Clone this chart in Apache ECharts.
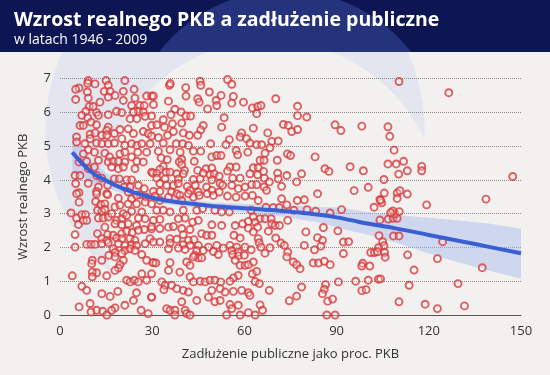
<!DOCTYPE html>
<html><head><meta charset="utf-8">
<script src="https://cdn.jsdelivr.net/npm/echarts@6/dist/echarts.min.js"></script>
<style>
html,body{margin:0;padding:0;background:#f2f1ef;}
#wrap{position:relative;width:550px;height:375px;overflow:hidden;
background:
 radial-gradient(circle 170px at 270px 210px, #f2f1ef 99.5%, rgba(242,241,239,0) 100%),
 radial-gradient(circle 190px at 235px 130px, #e3e6ee 99.5%, rgba(227,230,238,0) 100%),
 #f2f1ef;}
#head{position:absolute;left:0;top:0;width:550px;height:52px;
background: radial-gradient(circle 160px at 285px 150px, #25337c 99.5%, rgba(37,51,124,0) 100%), #0d1652;}
#c{position:absolute;left:0;top:0;width:550px;height:375px;z-index:1;}
</style>
</head><body>
<div id="wrap"><div id="head"></div><div id="c"></div></div>
<script>
// Scatter observations: [public debt % of GDP, real GDP growth %]
const observations = [
[9.2,6.94],[9,6.86],[11.4,6.84],[15,6.94],[21.1,6.94],[15.7,6.8],[6.2,6.72],[5.1,6.68],[8.9,6.6],[14.4,6.62],[16.3,6.62],[17.9,6.5],[20.6,6.62],[24.1,6.68],[28.2,6.48],[29.8,6.48],[5.1,6.38],[9.2,6.42],[15.7,6.45],[20.6,6.35],[24.4,6.42],[13,6.3],[9.5,6.17],[10.8,6.17],[8.4,6.03],[7.1,5.91],[11.9,5.99],[12.5,5.91],[15.7,5.93],[18.4,6.03],[20.1,5.99],[23.3,6.2],[26,6.2],[27.4,6.2],[25.5,6.03],[23.9,6.01],[27.1,6.01],[22.8,5.81],[25,5.81],[27.7,5.88],[29.8,5.61],[9,5.84],[10.1,5.71],[6.5,5.61],[7.6,5.61],[11.9,5.63],[15.7,5.56],[15.2,5.46],[17.7,5.37],[19.5,5.49],[22.2,5.51],[23.9,5.37],[27.1,5.43],[28.7,5.37],[5.4,5.27],[9.8,5.35],[11.4,5.39],[13.6,5.32],[15.2,5.32],[9.8,5.22],[8.1,5.07],[5.4,5.12],[11.9,5.09],[13.6,5.07],[15.7,5.07],[17.7,5.09],[20.1,5.22],[21.1,5.02],[23.3,5.07],[25,5.02],[26.6,5.07],[29.3,5.07],[9.2,4.89],[11.2,4.82],[7.6,4.77],[14.6,4.79],[16.1,4.68],[19.5,4.77],[21.1,4.82],[25.3,4.82],[28.2,4.82],[6.2,4.53],[8.7,4.55],[12.5,4.58],[15.7,4.53],[17.3,4.55],[19,4.55],[21.1,4.53],[23.3,4.68],[25,4.55],[27.1,4.53],[9.2,4.33],[11.2,4.38],[16.8,4.38],[19,4.33],[20.6,4.38],[24.4,4.33],[29.8,4.23],[11.9,4.13],[4.9,4.13],[6.5,4.13],[13.6,4.05],[17.7,4.03],[19.3,4.03],[21.7,4],[23.3,4],[9.2,3.9],[5.1,3.89],[12.5,3.79],[15.5,3.84],[20.9,3.79],[22.8,3.79],[25.5,3.84],[27.4,3.74],[6.2,3.62],[11.9,3.66],[15.2,3.59],[22.2,3.64],[26,3.56],
[5.4,3.59],[11.9,3.59],[15.5,3.56],[19,3.46],[23.3,3.44],[24.9,3.54],[28,3.49],[6.2,3.34],[11.6,3.36],[13.3,3.27],[14.6,3.29],[17.9,3.2],[19.5,3.25],[22.2,3.29],[24.9,3.29],[27.7,3.34],[29.8,3.29],[3.6,3.02],[5.4,2.87],[6,2.68],[7.1,2.97],[8.3,2.97],[7.6,2.8],[8.7,2.8],[12.2,3.1],[13.6,3.07],[14.6,3.13],[12.5,2.87],[14.1,2.87],[15.7,2.9],[16.8,3],[20.6,3],[23.3,3.07],[26.6,3.05],[18.4,2.8],[20.1,2.85],[21.7,2.95],[25.5,2.87],[27.7,2.85],[17.9,2.7],[20.1,2.67],[22.2,2.7],[24.9,2.65],[14.6,2.6],[27.4,2.53],[29.8,2.55],[4.9,2.38],[12.2,2.41],[15.5,2.38],[17.3,2.36],[20.1,2.41],[21.7,2.48],[23.5,2.44],[25.5,2.51],[13.6,2.26],[15.2,2.21],[18.4,2.28],[20.1,2.26],[22.8,2.26],[24.4,2.21],[4.9,2.01],[8.7,2.09],[10.1,2.09],[11.4,2.09],[13.6,2.11],[15.7,2.14],[19,2.11],[21.1,2.06],[23.3,2.08],[24.9,2.06],[27.7,2.11],[29.3,2.26],[17.3,1.96],[21.1,1.91],[22.8,1.96],[24.4,1.91],[15.9,1.77],[17.9,1.85],[20.1,1.82],[26.6,1.79],[10.5,1.62],[13.6,1.62],[20.6,1.62],[17.9,1.72],[28.2,1.62],[30.4,1.55],[10.3,1.52],[19.5,1.49],[19,1.39],[17.9,1.32],[11.9,1.25],[10.5,1.27],[10.5,1.13],[15.2,1.16],[4,1.16],[26.6,1.22],[29.8,1.22],[21.7,1.03],[22.8,0.98],[24.2,1.03],[25.5,0.98],[28.2,1.03],[7.1,0.85],[8.7,0.73],[13.6,0.63],[16.3,0.55],[18.8,0.7],[24.9,0.66],[29.8,0.53],[23.9,0.43],[21.1,0.29],[17.9,0.21],[16.8,0.14],[11.9,0.14],[10.1,0.09],[13.9,0.11],[15.2,0],[26.4,0.14],[28.7,0.04],[6.2,0.24],[9.8,0.34],
[35.6,6.8],[35.9,6.85],[40.9,6.73],[45.6,6.92],[45.8,6.8],[54.5,6.97],[55.9,6.83],[48.6,6.6],[30.4,6.48],[30.4,6.23],[35.3,6.33],[41,6.48],[44.8,6.4],[45.3,6.3],[50.8,6.35],[52.4,6.5],[56.4,6.47],[51,6.2],[55.9,6.27],[59.7,6.3],[48,6.1],[37.4,6.09],[39.4,6.01],[41,5.89],[42.5,5.89],[36.1,5.93],[39.6,5.68],[33.6,5.78],[29.8,5.89],[31.5,5.63],[46.6,5.61],[45.8,5.48],[53.4,5.84],[52.6,5.56],[36.6,5.66],[34,5.56],[59.1,5.39],[58.6,5.27],[60.7,5.22],[55.1,5.19],[29.8,5.3],[32,5.25],[35,5.32],[36.9,5.43],[40.1,5.39],[42.1,5.32],[44.8,5.32],[33.6,5.09],[37.8,5.07],[39.9,5.07],[41.8,5.02],[49,5.07],[54,5.04],[32,4.85],[35.8,4.89],[39.1,4.82],[43.4,4.85],[45.8,4.85],[57.3,4.87],[61.1,4.82],[49.4,4.68],[51,4.72],[52.4,4.72],[57.8,4.74],[32.9,4.65],[34.9,4.6],[39.6,4.61],[43.7,4.55],[55.3,4.38],[57.3,4.38],[38.8,4.53],[39.6,4.45],[33.6,4.4],[32.5,4.31],[47.5,4.33],[49.4,4.35],[40.5,4.28],[44.8,4.28],[30.2,4.2],[31.5,4.2],[34.5,4.23],[35.8,4.23],[38,4.18],[40.1,4.18],[46.6,4.2],[48.8,4.15],[50.2,4.18],[51.8,4.11],[54.5,4.26],[56.2,4.05],[58.6,4.05],[31.5,4.05],[34.2,4.03],[38.5,4.03],[43.4,4.01],[45.6,4.03],[49.4,4],[52.1,3.9],[55.9,3.84],[58,3.74],[60.2,3.79],[32.5,3.89],[34.7,3.84],[36.9,3.84],[38.5,3.89],[41.4,3.81],[44,3.84],[47.7,3.79],[30.4,3.66],[32.5,3.66],[36.3,3.64],[38,3.59],[42.3,3.69],[45,3.64],[49.4,3.69],[51.8,3.64],[52.9,3.84],
[30.9,3.52],[32.5,3.39],[35.3,3.49],[39,3.54],[41.8,3.59],[43.4,3.49],[39.6,3.39],[45.3,3.54],[47.9,3.59],[49.9,3.54],[54.5,3.52],[57.3,3.49],[60.2,3.52],[31.5,3.1],[33.6,3.1],[35.8,3.05],[40.1,3.1],[44.5,3.1],[46.4,3.15],[50.4,3.1],[52.6,3.05],[55.1,3.05],[30.4,2.8],[32.5,2.83],[38.5,2.85],[40.7,2.87],[43.2,2.75],[45,2.8],[49.4,2.67],[52.6,2.65],[57,2.65],[59.4,2.7],[61.3,2.77],[29.8,2.62],[32.5,2.56],[35.3,2.6],[36.9,2.62],[39.6,2.56],[42.3,2.53],[46.1,2.41],[47.7,2.36],[49.4,2.36],[40.1,2.38],[35.8,2.26],[38,2.24],[41.8,2.21],[43.6,2.23],[56.6,2.36],[58.6,2.28],[30.4,2.16],[32.5,2.16],[35.8,2.13],[40.1,2.08],[42.3,2.06],[45,2.06],[48.3,2.01],[51,2.06],[53.1,1.98],[55.3,2.06],[57.5,2.01],[60.2,2.01],[35.3,1.96],[38.5,1.98],[40.7,1.94],[44.5,1.91],[46.6,1.91],[49.9,1.88],[55.9,1.91],[58,1.86],[43.9,1.77],[45,1.69],[43.4,1.72],[46.1,1.69],[51.5,1.79],[56.2,1.79],[58,1.75],[60,1.77],[30.2,1.55],[31.2,1.54],[35.8,1.55],[41.2,1.57],[42.3,1.47],[57,1.62],[58.6,1.47],[60.2,1.47],[61.3,1.49],[35.3,1.32],[39,1.27],[58,1.17],[56.4,1.1],[42.3,1.13],[43.4,0.98],[45.6,1],[47.2,0.98],[48.8,1.03],[50.4,1.03],[52.3,0.98],[55.3,1],[33.1,0.98],[34.2,0.88],[36.3,0.88],[38,0.78],[40.1,0.73],[41.8,0.68],[49.4,0.73],[52.1,0.78],[53.7,0.68],[56.4,0.7],[59.1,0.73],[29.8,0.53],[33.8,0.75],[48.3,0.53],[50.4,0.39],[52.1,0.43],[39.6,0.39],[44.5,0.43],[55.3,0.31],[55.9,0.19],[58,0.29],[34.7,0.19],[35.8,0.14],[37.4,0.14],[40.7,0.14],[41.2,0.04],[37.4,0],[42.3,0],[54.2,0],[58.6,0],
[70.2,6.4],[77.3,6.18],[77.3,5.9],[80.3,5.86],[62.6,6.13],[64.3,6.17],[65.4,6.2],[64,5.96],[89.5,5.63],[91.4,5.46],[62.9,5.53],[67.6,5.39],[72.7,5.64],[74.3,5.61],[75.4,5.43],[77.3,5.49],[61.8,5.09],[64,5.04],[65.6,5.04],[68.9,5.14],[71,5.15],[68.3,4.95],[66.7,4.79],[74,4.77],[75,4.72],[83,4.68],[65.1,4.58],[66.4,4.58],[70.7,4.58],[86.2,4.33],[87.5,4.25],[62.9,4.36],[64.5,4.36],[66.2,4.25],[61.8,4.18],[64.3,4.15],[70.8,4.2],[73.8,4.13],[78.6,4.18],[71,4.03],[66.5,4.05],[68.1,3.94],[77,3.94],[62.4,3.86],[64,3.86],[72.1,3.81],[66.4,3.79],[67.2,3.69],[83.8,3.59],[62.6,3.54],[64.5,3.39],[72.1,3.44],[77.2,3.39],[79.5,3.41],[67,3.19],[69.4,3.18],[71.3,3.18],[73.8,3.26],[76.1,3.1],[80.4,3.12],[83.2,3.07],[87.9,3.02],[91.6,3.12],[62.2,3.1],[62.9,2.9],[65.1,2.85],[66.7,2.85],[68.7,2.85],[68.9,2.7],[70,2.65],[71.4,2.65],[63.5,2.75],[64.3,2.6],[74.1,2.8],[61.3,2.57],[62.9,2.46],[67.8,2.48],[85.7,2.59],[80,2.46],[90.4,2.49],[70.2,2.28],[64.5,2.26],[71.9,2.13],[73,2.06],[83.8,2.29],[85.4,2.21],[79.5,2.06],[82.8,1.93],[84.9,2.04],[92.2,2.16],[64.8,2.14],[65.4,2.01],[62.2,1.93],[68.3,1.99],[66.7,1.83],[74.1,1.86],[73.8,1.72],[92.2,1.82],[75.9,1.57],[77,1.49],[78.1,1.37],[82.4,1.54],[84.1,1.54],[86,1.59],[87.9,1.49],[62.9,1.57],[62.6,1.22],[64,1.29],[63.5,0.99],[64.9,0.93],[90.6,0.98],[86.4,0.9],[78.6,0.83],[77,0.56],[74.6,0.42],[86,0.76],[85.4,0.63],[87.1,0.41],[88.7,0.47],[68.1,0.73],[61.3,0.66],[61.8,0.58],[65.1,0.3],[65.9,0.14],[61.3,0.07],[63.5,0],[86.8,0],[89.5,0],
[98.2,5.59],[94.4,4.39],[98.7,4.27],[100.3,3.78],[95.7,3.68],[102.2,3.19],[93.9,2.17],[98.5,1.53],[98.2,1.45],[100.8,1.45],[101.1,1.85],[102.3,1.85],[96.2,1],[100.3,1.03],[103.6,1.06],[98.2,0.72],[99.6,0.75],
[103.8,2.35],[108.5,2.34],[110.3,2.34],[105,2.17],[105.4,2.05],[103.6,1.99],[103.3,1.87],[105.6,1.85],[105.8,1.71],[113.1,1.78],[122.8,1.67],[124.5,2.17],[137.4,1.4],[115.2,1.33],[104.3,1.07],[113.6,0.88],[129.5,0.93],[110.3,0.39],[118.8,0.32],[122.8,0.19],[131.6,0.27],[104.1,2.81],[106.8,2.84],[108.4,2.86],[109.7,2.86],[109,2.99],[110.4,3.06],[104.7,3.32],[119.3,3.26],
[110.3,6.91],[126.5,6.58],[106.7,5.57],[107.3,5.29],[108.7,4.88],[111.8,4.55],[106.7,4.47],[109.4,4.47],[113,4.27],[110.2,4.17],[117.7,4.4],[117.7,4.27],[105.4,4.01],[147.3,4.1],[105.5,3.61],[109.7,3.61],[110.6,3.68],[113,3.58],[109.7,3.45],[104.1,3.42],[104.3,3.39],[138.6,3.43],[108.3,3.08],[107.6,3.03]
];

// Smoothed trend (loess) and its confidence band
const trendDebt   = [4,10,15,20,25,30,35,40,45,50,55,60,65,70,75,80,85,90,95,100,110,120,130,140,150];
const trendGrowth = [4.82,4.25,3.98,3.76,3.6,3.47,3.38,3.32,3.27,3.22,3.19,3.16,3.13,3.1,3.06,3.01,2.96,2.89,2.8,2.71,2.55,2.37,2.19,2.01,1.83];
const bandLower   = [4.2,3.95,3.76,3.6,3.47,3.35,3.27,3.21,3.16,3.11,3.07,3.03,2.99,2.94,2.88,2.8,2.72,2.6,2.48,2.38,2.12,1.82,1.55,1.3,1.07];
const bandUpper   = [5.35,4.55,4.2,3.93,3.74,3.6,3.5,3.43,3.38,3.33,3.31,3.29,3.27,3.26,3.24,3.22,3.2,3.18,3.12,3.05,2.95,2.88,2.8,2.7,2.55];

const titleText = 'Wzrost realnego PKB a zadłużenie publiczne';
const subtitleText = 'w latach 1946 - 2009';
const xAxisName = 'Zadłużenie publiczne jako proc. PKB';
const yAxisName = 'Wzrost realnego PKB';

const chart = echarts.init(document.getElementById('c'), null, {renderer:'canvas'});
const labelFont = "'Open Sans', 'Noto Sans', sans-serif";
chart.setOption({
  animation: false,
  backgroundColor: 'transparent',
  title: {
    text: titleText, subtext: subtitleText, left: 9, top: 5, itemGap: 3,
    textStyle: {color:'#ffffff', fontSize: 19.5, fontWeight: 'bold', fontFamily: "'Liberation Sans Narrow', 'Open Sans', sans-serif"},
    subtextStyle: {color:'#ffffff', fontSize: 14, fontFamily: "'Liberation Sans Narrow', 'Open Sans', sans-serif"}
  },
  grid: {left: 60, right: 29, top: 78.5, bottom: 60},
  xAxis: {
    type: 'value', min: 0, max: 150, interval: 30,
    name: xAxisName, nameLocation: 'middle', nameGap: 33,
    nameTextStyle: {color:'#333', fontSize: 13, fontFamily: labelFont},
    axisLine: {show: true, lineStyle: {color:'#555', width: 1}},
    axisTick: {show: false},
    axisLabel: {color:'#333', fontSize: 13, margin: 10, fontFamily: labelFont},
    splitLine: {show: false}
  },
  yAxis: {
    type: 'value', min: 0, max: 7, interval: 1,
    name: yAxisName, nameLocation: 'middle', nameGap: 30,
    nameTextStyle: {color:'#333', fontSize: 13, fontFamily: labelFont},
    axisLine: {show: false}, axisTick: {show: false},
    axisLabel: {color:'#333', fontSize: 13, margin: 9, fontFamily: labelFont},
    splitLine: {show: true, lineStyle: {color:'#8c8c8c', type: 'dotted', width: 1}}
  },
  series: [
    {
      type: 'custom', z: 1, silent: true,
      data: [[0,0]],
      renderItem: function(params, api) {
        const pts = [];
        for (let i = 0; i < trendDebt.length; i++) pts.push(api.coord([trendDebt[i], bandUpper[i]]));
        for (let i = trendDebt.length - 1; i >= 0; i--) pts.push(api.coord([trendDebt[i], bandLower[i]]));
        return {type:'polygon', shape:{points: pts}, style:{fill:'rgba(165,185,240,0.45)'}};
      }
    },
    {
      type: 'scatter', z: 2, silent: true,
      data: observations,
      symbol: 'circle', symbolSize: 7,
      itemStyle: {color: 'rgba(255,255,255,0.3)', borderColor: '#d8393b', borderWidth: 1.9}
    },
    {
      type: 'line', z: 3, silent: true,
      data: trendDebt.map((d, i) => [d, trendGrowth[i]]),
      smooth: true, showSymbol: false,
      lineStyle: {color: '#3a5fd2', width: 4}
    }
  ]
});
</script>
</body></html>
